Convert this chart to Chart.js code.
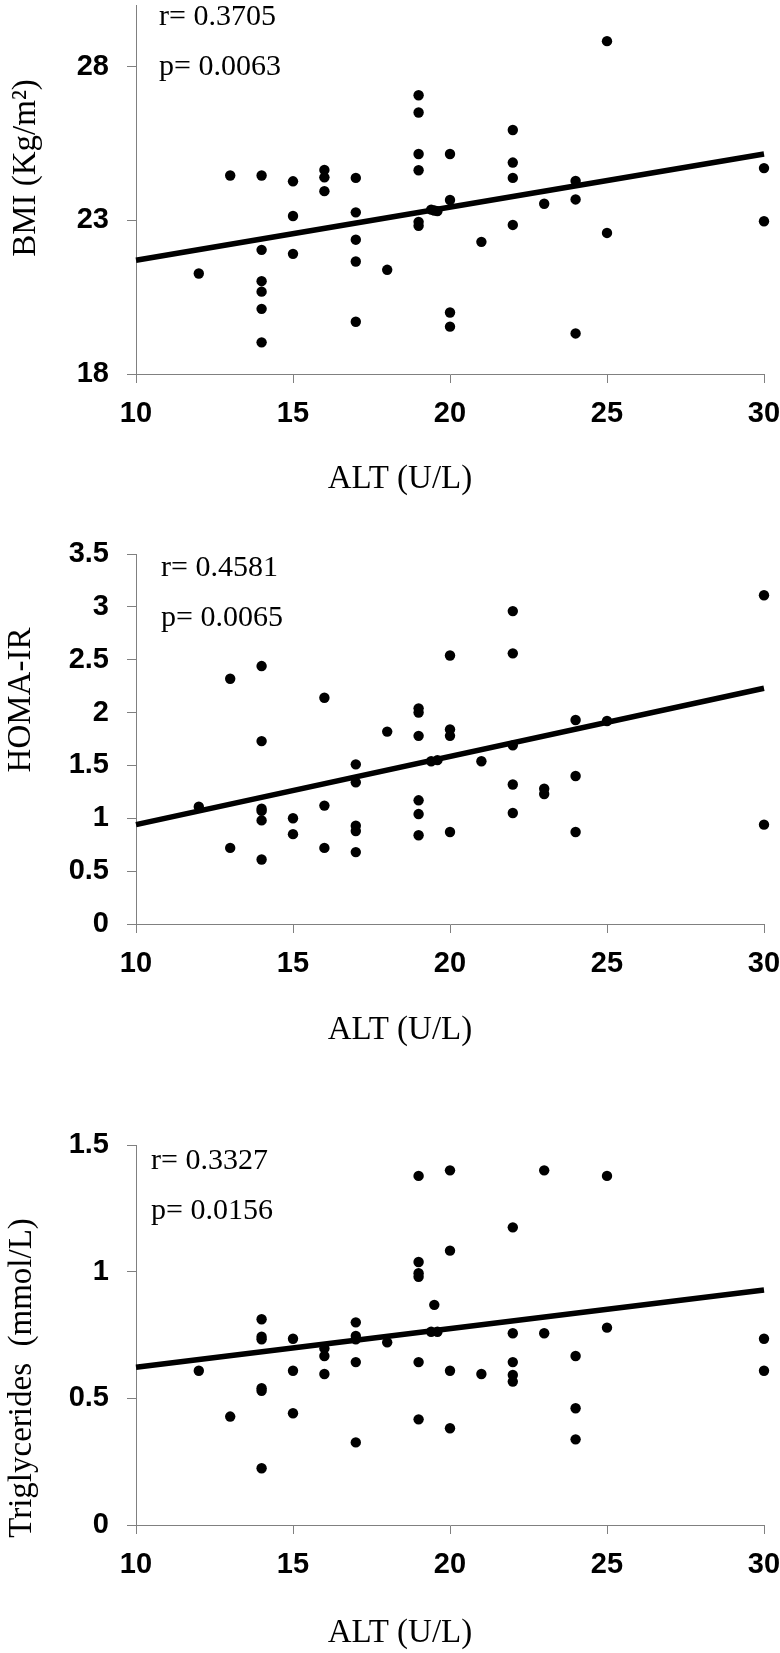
<!DOCTYPE html>
<html>
<head>
<meta charset="utf-8">
<script src="https://cdn.jsdelivr.net/npm/chart.js@4.4.0/dist/chart.umd.min.js"></script>
<style>
  body { margin: 0; background: #fff; }
  canvas { position: absolute; left: 0; }
</style>
</head>
<body>
<canvas id="bmi" width="780" height="520" style="top:0"></canvas>
<canvas id="homa" width="780" height="540" style="top:520px"></canvas>
<canvas id="tg" width="780" height="593" style="top:1060px"></canvas>
<script>
// Tick values
const altTicks = [10, 15, 20, 25, 30];
const bmiTicks = [18, 23, 28];
const homaTicks = [0, 0.5, 1, 1.5, 2, 2.5, 3, 3.5];
const tgTicks = [0, 0.5, 1, 1.5];

// BMI vs ALT
const bmiAlt = [12, 13, 14, 14, 14, 14, 14, 14, 15, 15, 15, 16, 16, 16, 17, 17, 17, 17, 17, 18,
  19, 19, 19, 19, 19, 19, 19.4, 19.5, 19.6, 20, 20, 20, 20, 21, 22, 22, 22, 22, 23, 24, 24, 24, 25, 25, 30, 30];
const bmiVals = [21.27, 24.46, 24.46, 22.04, 21.02, 20.68, 20.12, 19.03, 24.27, 23.14, 21.91, 24.64, 24.4, 23.95,
  24.38, 23.26, 22.37, 21.66, 19.7, 21.39, 27.07, 26.51, 25.16, 24.63, 22.95, 22.82, 23.35, 23.32, 23.3,
  25.16, 23.66, 20.0, 19.54, 22.3, 25.94, 24.88, 24.38, 22.85, 23.54, 24.28, 23.68, 19.32, 28.83, 22.59, 24.7, 22.97];

// HOMA-IR vs ALT
const homaAlt = [12, 13, 13, 14, 14, 14, 14, 14, 14, 15, 15, 16, 16, 16, 17, 17, 17, 17, 17, 18,
  19, 19, 19, 19, 19, 19, 19.4, 19.6, 20, 20, 20, 20, 21, 22, 22, 22, 22, 22, 23, 23, 24, 24, 24, 25, 30, 30];
const homaVals = [1.11, 2.32, 0.72, 2.44, 1.73, 1.09, 1.07, 0.98, 0.61, 1.0, 0.85, 2.14, 1.12, 0.72,
  1.51, 1.34, 0.93, 0.88, 0.68, 1.82, 2.04, 2.0, 1.78, 1.17, 1.04, 0.84, 1.54, 1.55,
  2.54, 1.84, 1.78, 0.87, 1.54, 2.96, 2.56, 1.69, 1.32, 1.05, 1.28, 1.23, 1.93, 1.4, 0.87, 1.92, 3.11, 0.94];

// Triglycerides vs ALT
const tgAlt = [12, 13, 14, 14, 14, 14, 14, 14, 15, 15, 15, 16, 16, 16, 17, 17, 17, 17, 17, 18,
  19, 19, 19, 19, 19, 19, 19.5, 19.4, 19.6, 20, 20, 20, 20, 21, 22, 22, 22, 22, 22, 23, 23, 24, 24, 24, 25, 25, 30, 30];
const tgVals = [0.609, 0.428, 0.812, 0.743, 0.733, 0.54, 0.53, 0.224, 0.735, 0.609, 0.441, 0.697, 0.667, 0.596,
  0.8, 0.746, 0.733, 0.643, 0.326, 0.721, 1.378, 1.038, 0.994, 0.98, 0.643, 0.417, 0.869, 0.763, 0.763,
  1.4, 1.083, 0.609, 0.382, 0.596, 1.175, 0.757, 0.643, 0.592, 0.566, 1.4, 0.757, 0.667, 0.461, 0.338,
  1.378, 0.779, 0.735, 0.609];

// Regression lines (ALT 10 -> 30)
const fitAlt = [10, 30];
const bmiFit = [21.70, 25.16];
const homaFit = [0.94, 2.23];
const tgFit = [0.623, 0.928];

function toPoints(xs, ys) {
  return xs.map((x, i) => ({ x: x, y: ys[i] }));
}

const SERIF = "'Liberation Serif', 'Times New Roman', serif";
const SANS = "'Liberation Sans', Arial, sans-serif";
const AXIS_GREY = '#808080';

// Draws the r/p annotations and both axis titles
const figText = {
  id: 'figText',
  afterDraw(chart, args, o) {
    const ctx = chart.ctx;
    ctx.save();
    ctx.fillStyle = '#000';
    ctx.font = '30px ' + SERIF;
    ctx.textAlign = 'left';
    ctx.textBaseline = 'alphabetic';
    ctx.fillText(o.r, o.statX, o.statY);
    ctx.fillText(o.p, o.statX, o.statY + 50);

    ctx.font = '33px ' + SERIF;
    ctx.textAlign = 'center';
    ctx.textBaseline = 'middle';
    ctx.fillText('ALT (U/L)', 400, o.xTitleY);

    ctx.translate(o.yTitleX, o.yTitleY);
    ctx.rotate(-Math.PI / 2);
    ctx.fillText(o.yTitle, 0, 0);
    ctx.restore();
  }
};

function makeChart(id, cfg) {
  return new Chart(document.getElementById(id), {
    type: 'scatter',
    data: {
      datasets: [
        {
          data: toPoints(cfg.xs, cfg.ys),
          pointRadius: 5.2,
          pointBackgroundColor: '#000',
          pointBorderWidth: 0,
          clip: false,
          order: 2
        },
        {
          type: 'line',
          data: toPoints(fitAlt, cfg.fit),
          borderColor: '#000',
          borderWidth: 5.5,
          pointRadius: 0,
          fill: false,
          clip: false,
          order: 1
        }
      ]
    },
    options: {
      responsive: false,
      animation: false,
      events: [],
      layout: { padding: { top: cfg.top, right: 16, left: 0, bottom: 0 } },
      plugins: {
        legend: { display: false },
        tooltip: { enabled: false },
        figText: cfg.text
      },
      scales: {
        x: {
          type: 'linear',
          min: 10,
          max: 30,
          afterBuildTicks: s => { s.ticks = altTicks.map(v => ({ value: v })); },
          afterFit: s => { s.height = cfg.xh; s.paddingLeft = 0; s.paddingRight = 0; },
          grid: { drawOnChartArea: false, tickLength: 9, tickColor: AXIS_GREY, tickWidth: 1 },
          border: { color: AXIS_GREY, width: 1 },
          ticks: {
            color: '#000',
            padding: 14,
            maxRotation: 0,
            autoSkip: false,
            font: { family: SANS, size: 29, weight: 'bold' }
          }
        },
        y: {
          type: 'linear',
          min: cfg.min,
          max: cfg.max,
          afterBuildTicks: s => { s.ticks = cfg.ticks.map(v => ({ value: v })); },
          afterFit: s => { s.width = 136; s.paddingTop = 0; s.paddingBottom = 0; },
          grid: { drawOnChartArea: false, tickLength: 9, tickColor: AXIS_GREY, tickWidth: 1 },
          border: { color: AXIS_GREY, width: 1 },
          ticks: {
            color: '#000',
            padding: 18,
            autoSkip: false,
            callback: v => String(v),
            font: { family: SANS, size: 29, weight: 'bold' }
          }
        }
      }
    },
    plugins: [figText]
  });
}

makeChart('bmi', {
  xs: bmiAlt, ys: bmiVals, fit: bmiFit, ticks: bmiTicks, min: 18, max: 30,
  top: 4, xh: 146,
  text: { r: 'r= 0.3705', p: 'p= 0.0063', statX: 159, statY: 25, xTitleY: 479,
          yTitle: 'BMI (Kg/m\u00B2)', yTitleX: 26, yTitleY: 168 }
});

makeChart('homa', {
  xs: homaAlt, ys: homaVals, fit: homaFit, ticks: homaTicks, min: 0, max: 3.5,
  top: 34, xh: 136,
  text: { r: 'r= 0.4581', p: 'p= 0.0065', statX: 161, statY: 56, xTitleY: 510,
          yTitle: 'HOMA-IR', yTitleX: 21, yTitleY: 180 }
});

makeChart('tg', {
  xs: tgAlt, ys: tgVals, fit: tgFit, ticks: tgTicks, min: 0, max: 1.5,
  top: 85, xh: 128,
  text: { r: 'r= 0.3327', p: 'p= 0.0156', statX: 151, statY: 109, xTitleY: 573,
          yTitle: 'Triglycerides  (mmol/L)', yTitleX: 22, yTitleY: 318 }
});
</script>
</body>
</html>
